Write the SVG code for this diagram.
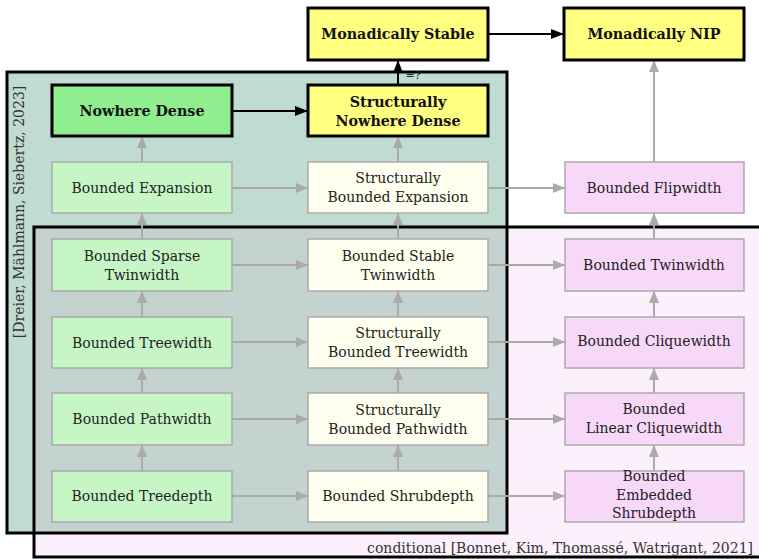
<svg xmlns="http://www.w3.org/2000/svg" width="759" height="559" viewBox="0 0 759 559">
<style>
text{font-family:"DejaVu Serif",serif;font-size:14px;fill:#222;text-anchor:middle}
.b{font-weight:bold;fill:#111;font-size:14.3px}
.key{stroke:#000;stroke-width:3}
.soft{stroke:#aaa;stroke-width:1.5}
.ga{stroke:#aaa;stroke-width:2;fill:none;marker-end:url(#ga)}
.ba{stroke:#000;stroke-width:2;fill:none;marker-end:url(#ba)}
.g{fill:#c6f6c6}.c{fill:#fffff0}.p{fill:#f8d8f8}.y{fill:#ffff80}.n{fill:#90ee90}
.lab{font-size:14px;fill:#333}
</style>
<defs>
<marker id="ga" markerWidth="12" markerHeight="10" refX="12" refY="5" orient="auto" markerUnits="userSpaceOnUse"><path d="M0,0L12,5L0,10z" fill="#aaa"/></marker>
<marker id="ba" markerWidth="13" markerHeight="10" refX="13" refY="5" orient="auto" markerUnits="userSpaceOnUse"><path d="M0,0L13,5L0,10z" fill="#000"/></marker>
</defs>
<rect width="759" height="559" fill="#fff"/>
<g id="regions">
<rect x="34" y="227" width="740" height="330" fill="#fdf0fd"/>
<rect x="7" y="72" width="500" height="461" fill="#c0dcd0"/>
<rect x="34" y="227" width="473" height="306" fill="#c5d3d0"/>
<rect x="34" y="227" width="740" height="330" fill="none" stroke="#000" stroke-width="3"/>
<rect x="7" y="72" width="500" height="461" fill="none" stroke="#000" stroke-width="3"/>
<text class="lab" transform="translate(24,212) rotate(-90)">[Dreier, Mählmann, Siebertz, 2023]</text>
<text class="lab" x="753" y="553" style="text-anchor:end">conditional [Bonnet, Kim, Thomassé, Watrigant, 2021]</text>
</g>
<g id="connectors">
<line class="ba" x1="488" y1="34" x2="564" y2="34"/>
<line class="ba" x1="232" y1="111" x2="308" y2="111"/>
<line class="ba" x1="398" y1="85" x2="398" y2="60"/>
<text x="413" y="79" style="font-size:11px">=?</text>
<line class="ga" x1="654" y1="162" x2="654" y2="60"/>
<line class="ga" x1="142" y1="162" x2="142" y2="136"/>
<line class="ga" x1="398" y1="162" x2="398" y2="136"/>
<line class="ga" x1="142" y1="239" x2="142" y2="213"/>
<line class="ga" x1="398" y1="239" x2="398" y2="213"/>
<line class="ga" x1="654" y1="239" x2="654" y2="213"/>
<line class="ga" x1="142" y1="317" x2="142" y2="291"/>
<line class="ga" x1="398" y1="317" x2="398" y2="291"/>
<line class="ga" x1="654" y1="317" x2="654" y2="291"/>
<line class="ga" x1="142" y1="393" x2="142" y2="368"/>
<line class="ga" x1="398" y1="393" x2="398" y2="368"/>
<line class="ga" x1="654" y1="393" x2="654" y2="368"/>
<line class="ga" x1="142" y1="471" x2="142" y2="445"/>
<line class="ga" x1="398" y1="471" x2="398" y2="445"/>
<line class="ga" x1="654" y1="471" x2="654" y2="445"/>
<line class="ga" x1="232" y1="188" x2="308" y2="188"/>
<line class="ga" x1="488" y1="188" x2="565" y2="188"/>
<line class="ga" x1="232" y1="265" x2="308" y2="265"/>
<line class="ga" x1="488" y1="265" x2="565" y2="265"/>
<line class="ga" x1="232" y1="342" x2="308" y2="342"/>
<line class="ga" x1="488" y1="342" x2="565" y2="342"/>
<line class="ga" x1="232" y1="419" x2="308" y2="419"/>
<line class="ga" x1="488" y1="419" x2="565" y2="419"/>
<line class="ga" x1="232" y1="496" x2="308" y2="496"/>
<line class="ga" x1="488" y1="496" x2="565" y2="496"/>
</g>
<g id="monadically-stable"><rect class="y key" x="308" y="8" width="180" height="52"/><text class="b" x="398" y="39">Monadically Stable</text></g>
<g id="monadically-nip"><rect class="y key" x="564" y="8" width="180" height="52"/><text class="b" x="654" y="39">Monadically NIP</text></g>
<g id="nowhere-dense"><rect class="n key" x="52" y="85" width="180" height="51"/><text class="b" x="142" y="116">Nowhere Dense</text></g>
<g id="structurally-nowhere-dense"><rect class="y key" x="308" y="85" width="180" height="51"/><text class="b" x="398" y="107">Structurally</text><text class="b" x="398" y="126">Nowhere Dense</text></g>
<g id="bounded-expansion"><rect class="g soft" x="52" y="162" width="180" height="51"/><text x="142" y="193">Bounded Expansion</text></g>
<g id="structurally-bounded-expansion"><rect class="c soft" x="308" y="162" width="180" height="51"/><text x="398" y="183">Structurally</text><text x="398" y="202">Bounded Expansion</text></g>
<g id="bounded-flipwidth"><rect class="p soft" x="565" y="162" width="179" height="51"/><text x="654" y="193">Bounded Flipwidth</text></g>
<g id="bounded-sparse-twinwidth"><rect class="g soft" x="52" y="239" width="180" height="52"/><text x="142" y="261">Bounded Sparse</text><text x="142" y="280">Twinwidth</text></g>
<g id="bounded-stable-twinwidth"><rect class="c soft" x="308" y="239" width="180" height="52"/><text x="398" y="261">Bounded Stable</text><text x="398" y="280">Twinwidth</text></g>
<g id="bounded-twinwidth"><rect class="p soft" x="565" y="239" width="179" height="52"/><text x="654" y="270">Bounded Twinwidth</text></g>
<g id="bounded-treewidth"><rect class="g soft" x="52" y="317" width="180" height="51"/><text x="142" y="348">Bounded Treewidth</text></g>
<g id="structurally-bounded-treewidth"><rect class="c soft" x="308" y="317" width="180" height="51"/><text x="398" y="338">Structurally</text><text x="398" y="357">Bounded Treewidth</text></g>
<g id="bounded-cliquewidth"><rect class="p soft" x="565" y="317" width="179" height="51"/><text x="654" y="346">Bounded Cliquewidth</text></g>
<g id="bounded-pathwidth"><rect class="g soft" x="52" y="393" width="180" height="52"/><text x="142" y="424">Bounded Pathwidth</text></g>
<g id="structurally-bounded-pathwidth"><rect class="c soft" x="308" y="393" width="180" height="52"/><text x="398" y="415">Structurally</text><text x="398" y="434">Bounded Pathwidth</text></g>
<g id="bounded-linear-cliquewidth"><rect class="p soft" x="565" y="393" width="179" height="52"/><text x="654" y="414">Bounded</text><text x="654" y="433">Linear Cliquewidth</text></g>
<g id="bounded-treedepth"><rect class="g soft" x="52" y="471" width="180" height="51"/><text x="142" y="501">Bounded Treedepth</text></g>
<g id="bounded-shrubdepth"><rect class="c soft" x="308" y="471" width="180" height="51"/><text x="398" y="501">Bounded Shrubdepth</text></g>
<g id="bounded-embedded-shrubdepth"><rect class="p soft" x="565" y="471" width="179" height="51"/><text x="654" y="481">Bounded</text><text x="654" y="500">Embedded</text><text x="654" y="518">Shrubdepth</text></g>
</svg>
